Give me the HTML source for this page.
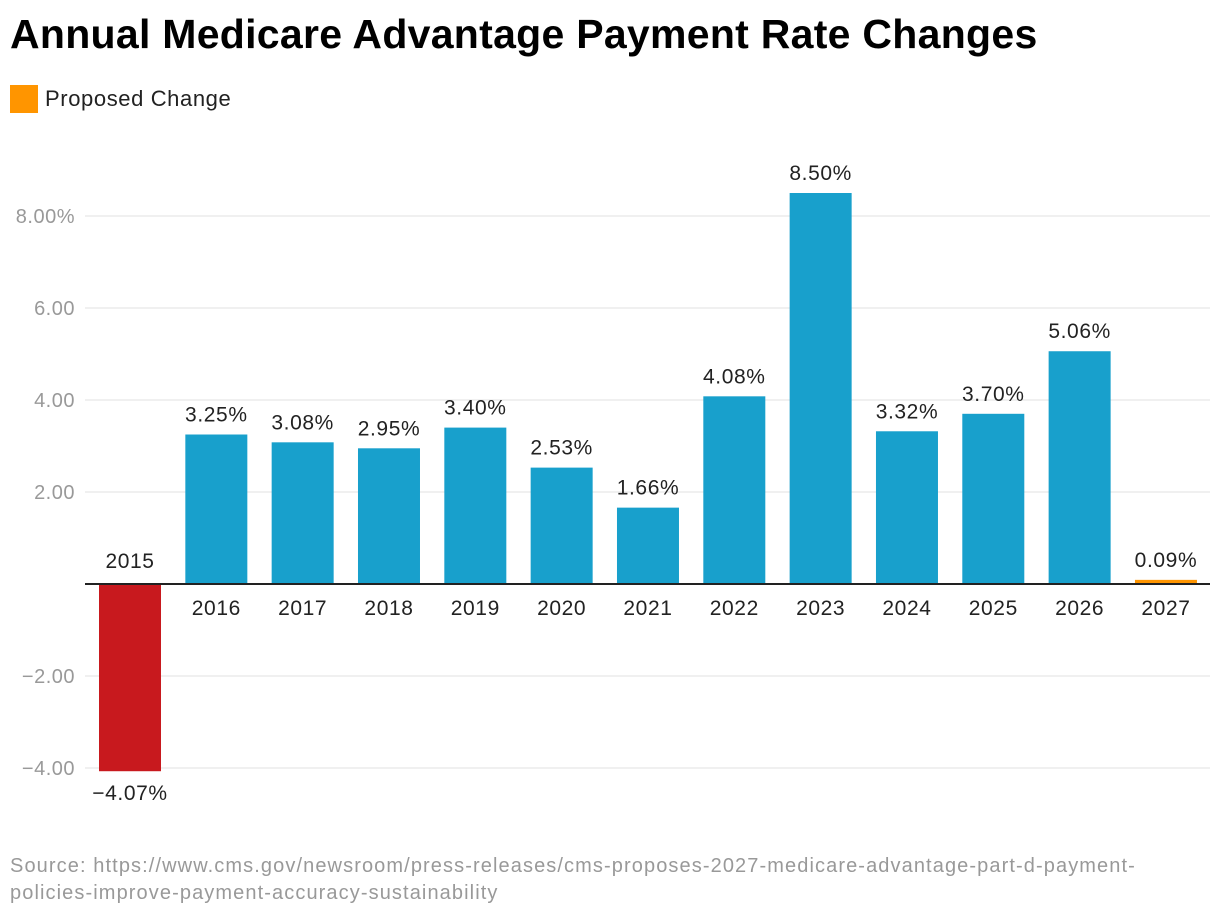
<!DOCTYPE html>
<html><head><meta charset="utf-8"><style>
body{margin:0;background:#fff;width:1220px;height:918px;overflow:hidden;font-family:"Liberation Sans",sans-serif;}
</style></head><body>
<div style="position:absolute;left:10px;top:11px;font-size:41px;font-weight:bold;color:#000;letter-spacing:0.28px">Annual Medicare Advantage Payment Rate Changes</div>
<div style="position:absolute;left:10px;top:85px;display:flex;align-items:center">
<div style="width:28px;height:28px;background:#ff9500"></div>
<span style="margin-left:7px;font-size:22px;color:#222;letter-spacing:0.6px">Proposed Change</span></div>
<svg id="chart" width="1220" height="918" style="position:absolute;left:0;top:0"></svg>
<div style="position:absolute;left:10px;top:853px;font-size:20px;line-height:27px;color:#999;letter-spacing:1.1px">Source: https://www.cms.gov/newsroom/press-releases/cms-proposes-2027-medicare-advantage-part-d-payment-<br>policies-improve-payment-accuracy-sustainability</div>
<script>
const categories=["2015","2016","2017","2018","2019","2020","2021","2022","2023","2024","2025","2026","2027"];
const values=[-4.07,3.25,3.08,2.95,3.40,2.53,1.66,4.08,8.50,3.32,3.70,5.06,0.09];
const valueLabels=["−4.07%","3.25%","3.08%","2.95%","3.40%","2.53%","1.66%","4.08%","8.50%","3.32%","3.70%","5.06%","0.09%"];
const ticks=[-4,-2,2,4,6,8];
const tickLabels=["−4.00","−2.00","2.00","4.00","6.00","8.00%"];
const ns="http://www.w3.org/2000/svg",svg=document.getElementById("chart");
const y=v=>584-v*46;
const x=i=>130+i*86.33;
function mk(t,a){const e=document.createElementNS(ns,t);for(const k in a)e.setAttribute(k,a[k]);svg.appendChild(e);return e;}
ticks.forEach((t,i)=>{
 const l=mk("line",{x1:85,x2:1210,y1:y(t),y2:y(t),stroke:"#e0e0e0","stroke-width":1});
 
 
 const tx=mk("text",{x:75,y:y(t)+7,"text-anchor":"end","font-size":20,fill:"#999","letter-spacing":0.5});
 tx.textContent=tickLabels[i];
 
 
});
values.forEach((v,i)=>{
 const cx=x(i),w=62,top=Math.min(y(v),y(0)),h=Math.abs(y(v)-y(0));
 const color=i===values.length-1?"#ff9500":(v<0?"#c8191e":"#18a0cc");
 const r=mk("rect",{x:cx-w/2,y:top,width:w,height:Math.max(h,1),fill:color});
 
 
 const vl=mk("text",{x:cx,"text-anchor":"middle","font-size":21,fill:"#222","letter-spacing":0.6,y:v<0?y(v)+29:y(v)-13});
 vl.textContent=valueLabels[i];
 
 
 const cl=mk("text",{x:cx,"text-anchor":"middle","font-size":21,fill:"#222","letter-spacing":0.6,y:v<0?y(0)-16:y(0)+31});
 cl.textContent=categories[i];
 
 
});
const z=mk("line",{x1:85,x2:1210,y1:y(0),y2:y(0),stroke:"#222","stroke-width":2});


</script>
</body></html>
